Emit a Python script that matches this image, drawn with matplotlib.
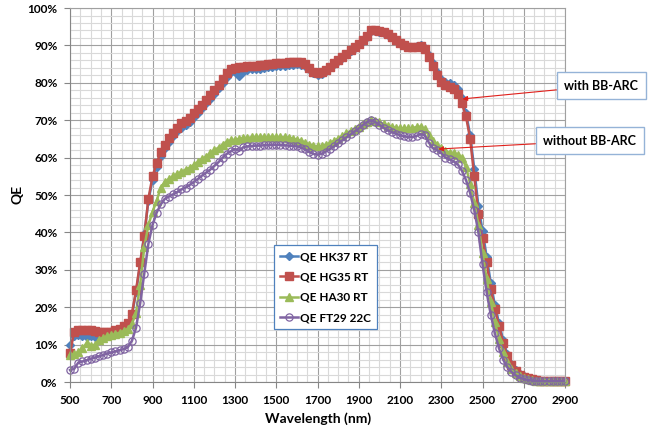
import matplotlib
matplotlib.use("Agg")
import matplotlib.pyplot as plt
import matplotlib.ticker as mticker
import numpy as np

# wavelength grid (nm)
wavelength = np.arange(500, 2901, 20)

# QE values in percent (20 nm steps)
qe_hk37 = [
    9.8, 12.3, 12.5, 12.3, 12.0,
    12.3, 12.0, 12.2, 12.8, 13.0,
    13.3, 13.7, 14.2, 14.9, 15.7,
    17.8, 24.0, 31.5, 39.5, 48.5,
    54.0, 57.5, 60.5, 62.5, 64.3,
    65.8, 67.0, 68.0, 68.8, 69.6,
    70.8, 72.0, 73.2, 74.5, 75.8,
    77.0, 78.5, 80.0, 81.5, 82.8,
    82.8, 81.8, 83.0, 83.4, 83.6,
    83.7, 83.8, 83.9, 84.1, 84.2,
    84.4, 84.5, 84.6, 84.8, 84.9,
    85.0, 84.9, 84.5, 83.6, 82.6,
    82.2, 82.4, 83.2, 84.1, 85.0,
    85.8, 86.6, 87.6, 88.5, 89.4,
    90.3, 91.3, 92.3, 93.8, 93.9,
    93.7, 93.4, 92.9, 92.2, 91.4,
    90.6, 90.0, 89.7, 89.6, 89.9,
    90.0, 89.3, 87.5, 85.2, 82.8,
    81.0, 80.2, 79.9, 79.5, 78.3,
    76.0, 72.0, 66.0, 57.0, 47.0,
    40.5, 33.5, 26.5, 20.5, 15.8,
    11.2, 7.5, 4.8, 3.2, 2.2,
    1.5, 1.0, 0.7, 0.5, 0.4,
    0.3, 0.3, 0.2, 0.2, 0.2,
    0.2,
]
qe_hg35 = [
    7.7, 13.5, 14.0, 14.0, 13.8,
    14.0, 13.6, 13.4, 13.3, 13.3,
    13.4, 13.8, 14.3, 15.0, 15.8,
    18.2, 24.5, 32.0, 39.0, 49.0,
    55.0, 58.5, 61.5, 63.5, 65.3,
    66.7, 68.0, 69.2, 69.8, 70.5,
    71.8, 73.0, 74.2, 75.5, 76.8,
    78.0, 79.5, 81.0, 82.5, 83.8,
    84.0, 84.3, 84.3, 84.5, 84.6,
    84.6, 84.7, 84.8, 85.0, 85.0,
    85.2, 85.3, 85.4, 85.5, 85.6,
    85.7, 85.5, 85.0, 84.0, 83.0,
    82.6, 82.8, 83.5, 84.3, 85.2,
    86.0, 86.8, 87.8, 88.7, 89.6,
    90.5, 91.5, 92.5, 94.0, 94.0,
    93.8, 93.5, 93.0, 92.3, 91.5,
    90.7, 90.0, 89.6, 89.5, 89.7,
    89.8, 89.0, 87.0, 84.5, 82.0,
    80.3, 79.3, 78.8, 78.3, 77.0,
    74.5, 71.0, 65.0, 55.0, 45.0,
    38.5, 32.0, 25.0, 19.5, 15.0,
    10.5, 7.0, 4.5, 3.0, 2.0,
    1.4, 1.0, 0.7, 0.5, 0.4,
    0.3, 0.3, 0.2, 0.2, 0.2,
    0.2,
]
qe_ha30 = [
    7.2, 7.5, 8.0, 9.0, 10.3,
    9.6, 10.0, 11.3, 11.8, 12.2,
    12.5, 12.8, 13.2, 13.6, 14.2,
    15.5, 18.5, 26.0, 36.0, 42.0,
    45.5, 48.5, 52.0, 53.5, 54.3,
    55.0, 55.6, 56.2, 56.8, 57.3,
    58.0, 58.8, 59.6, 60.3, 61.2,
    62.0, 62.7, 63.5, 64.3, 64.6,
    64.8, 65.0, 65.2, 65.3, 65.4,
    65.4, 65.5, 65.5, 65.5, 65.5,
    65.5, 65.5, 65.4, 65.3, 65.1,
    64.8, 64.5, 64.0, 63.5, 63.2,
    63.0, 63.1, 63.4, 63.9, 64.5,
    65.1, 65.8, 66.5, 67.1, 67.7,
    68.3, 69.0, 69.6, 70.0, 69.8,
    69.4, 69.0, 68.5, 68.2, 68.0,
    67.9, 67.8, 67.8, 67.9, 68.2,
    68.3, 67.6, 66.0, 64.5, 63.5,
    62.5, 61.8, 61.3, 61.2, 60.8,
    60.0, 57.5, 53.0, 48.0, 42.0,
    34.5, 27.5, 21.5, 16.0, 11.5,
    8.0, 5.3, 3.5, 2.3, 1.5,
    1.0, 0.7, 0.5, 0.4, 0.3,
    0.3, 0.2, 0.2, 0.2, 0.2,
    0.2,
]
qe_ft29 = [
    3.2, 3.5, 5.2, 5.5, 5.8,
    6.2, 6.5, 6.9, 7.2, 7.6,
    7.9, 8.2, 8.5, 8.8, 9.3,
    11.0, 14.5, 21.0, 29.0, 37.0,
    42.0, 45.3, 47.5, 49.0, 49.6,
    50.2, 50.8, 51.5, 52.0, 52.7,
    53.5, 54.3, 55.2, 56.0, 56.8,
    57.8, 58.8, 60.0, 61.0, 61.7,
    62.3, 61.8, 62.8, 63.0, 63.1,
    63.2, 63.2, 63.3, 63.3, 63.4,
    63.4, 63.4, 63.3, 63.2, 63.1,
    63.0, 62.7, 62.2, 61.5, 61.0,
    60.8, 61.0, 61.6, 62.3, 63.0,
    63.8, 64.6, 65.4, 66.2, 67.0,
    67.8, 68.7, 69.5, 70.0, 69.5,
    68.8, 68.0, 67.3, 66.8, 66.4,
    66.0, 65.7, 65.5, 65.5, 65.8,
    66.3, 66.0, 64.0, 62.5, 62.0,
    61.2, 60.0, 59.5, 59.0, 58.2,
    56.5, 54.0, 50.5, 46.0, 40.0,
    31.5, 24.0, 18.0, 13.0, 9.0,
    6.0, 4.0, 2.7, 1.8, 1.2,
    0.8, 0.5, 0.4, 0.3, 0.2,
    0.2, 0.2, 0.2, 0.2, 0.2,
    0.2,
]

series_labels = ["QE HK37 RT", "QE HG35 RT", "QE HA30 RT", "QE FT29 22C"]
x_ticks = [500, 700, 900, 1100, 1300, 1500, 1700, 1900, 2100, 2300, 2500, 2700, 2900]
y_ticks = [0, 10, 20, 30, 40, 50, 60, 70, 80, 90, 100]

plt.rcParams['font.family'] = ['Lato', 'DejaVu Sans']
plt.rcParams['font.weight'] = 'bold'

fig = plt.figure(figsize=(6.49, 4.32), dpi=100)
ax = fig.add_axes([0.1079, 0.1157, 0.7627, 0.8657])

styles = [
    dict(color='#4F81BD', marker='D', markersize=3.8),
    dict(color='#C0504D', marker='s', markersize=5.4),
    dict(color='#9BBB59', marker='^', markersize=5.4),
    dict(color='#8064A2', marker='o', markersize=5.2, markerfacecolor='none', markeredgewidth=0.9),
]
for values, label, st in zip([qe_hk37, qe_hg35, qe_ha30, qe_ft29], series_labels, styles):
    ax.plot(wavelength, values, label=label, linewidth=1.8, clip_on=False, **st)

ax.set_xlim(500, 2900)
ax.set_ylim(0, 100)
ax.set_xticks(x_ticks)
ax.set_yticks(y_ticks)
ax.xaxis.set_minor_locator(mticker.MultipleLocator(50))
ax.yaxis.set_minor_locator(mticker.MultipleLocator(2))
ax.yaxis.set_major_formatter(mticker.FuncFormatter(lambda v, p: f"{v:.0f}%"))
ax.tick_params(which='major', labelsize=8.5, length=4, width=0.8, color='#868686', pad=5)
ax.tick_params(which='minor', length=0)
ax.grid(which='major', color='#a0a0a0', linewidth=0.8)
ax.grid(which='minor', color='#d9d9d9', linewidth=0.8)
ax.set_axisbelow(True)
for sp in ax.spines.values():
    sp.set_color('#a0a0a0')
    sp.set_linewidth(0.8)
ax.spines['left'].set_color('#868686')
ax.spines['bottom'].set_color('#868686')

fig.text(0.027, 0.55, "QE", rotation=90, fontsize=10, fontweight='bold', ha='center', va='center')
fig.text(0.49, 0.032, "Wavelength (nm)", fontsize=10, fontweight='bold', ha='center', va='center')

leg = ax.legend(loc='upper left', bbox_to_anchor=(0.412, 0.366), fontsize=8.5,
                fancybox=False, framealpha=1, edgecolor='#4F81BD',
                handlelength=1.5, handletextpad=0.2, labelspacing=0.8,
                borderpad=0.5, borderaxespad=0)
leg.get_frame().set_linewidth(0.9)
leg.set_zorder(5)

box = dict(boxstyle='square,pad=0.6', facecolor='white', edgecolor='#95B3D7', linewidth=1)
arrow = dict(arrowstyle='-|>', color='#E0201B', linewidth=0.8, mutation_scale=7, shrinkA=0, shrinkB=0)
ax.annotate("with BB-ARC", xy=(2403, 75.7), xycoords='data',
            xytext=(0.9268, 0.802), textcoords='figure fraction',
            fontsize=9, fontweight='bold', ha='center', va='center',
            bbox=box, arrowprops=arrow, annotation_clip=False)
ax.annotate("without BB-ARC", xy=(2286, 62.3), xycoords='data',
            xytext=(0.909, 0.674), textcoords='figure fraction',
            fontsize=9, fontweight='bold', ha='center', va='center',
            bbox=box, arrowprops=arrow, annotation_clip=False)

fig.savefig("out.png", dpi=100)
